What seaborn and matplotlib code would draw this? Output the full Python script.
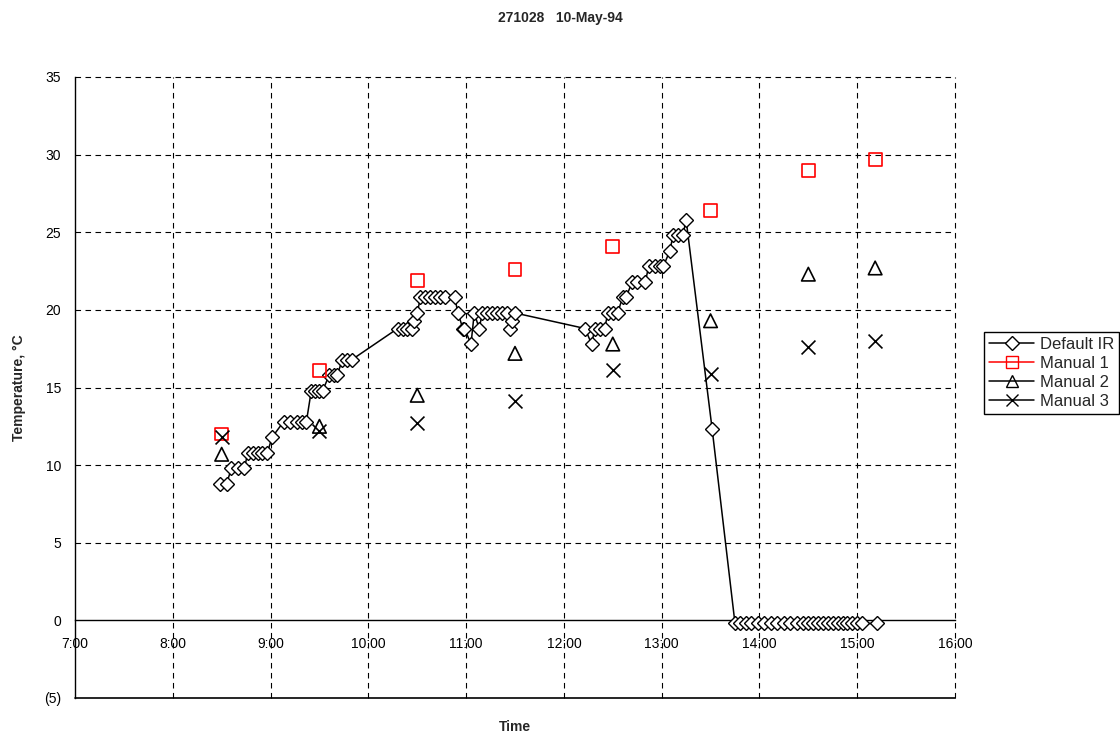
import matplotlib
matplotlib.use("Agg")
import matplotlib.pyplot as plt
from matplotlib.lines import Line2D
from matplotlib.ticker import FuncFormatter
import seaborn as sns
import pandas as pd

# ---------------- data ----------------
ir_times = ["8:29", "8:33", "8:36", "8:40", "8:44", "8:46", "8:49", "8:52", "8:55", "8:58",
            "9:01", "9:08", "9:12", "9:16", "9:19", "9:22", "9:25", "9:27", "9:30", "9:32",
            "9:36", "9:39", "9:41", "9:44", "9:47", "9:50",
            "10:18", "10:21", "10:24", "10:27", "10:28", "10:30", "10:32", "10:35", "10:38",
            "10:41", "10:44", "10:47", "10:53", "10:55", "10:58", "10:59", "11:03", "11:05",
            "11:08", "11:10", "11:13", "11:16", "11:19", "11:22", "11:25", "11:27", "11:28",
            "11:30",
            "12:13", "12:17", "12:19", "12:22", "12:25", "12:27", "12:30", "12:33", "12:36",
            "12:38", "12:42", "12:45", "12:50", "12:52", "12:56", "12:59", "13:01", "13:05",
            "13:07", "13:10", "13:13", "13:15", "13:31",
            "13:45", "13:48", "13:52", "13:55", "13:59", "14:03", "14:07", "14:11", "14:15",
            "14:19", "14:23", "14:27", "14:30", "14:33", "14:36", "14:39", "14:42", "14:45",
            "14:48", "14:51", "14:54", "14:57", "15:00", "15:03", "15:12"]
ir_values = [8.8, 8.8, 9.8, 9.8, 9.8, 10.8, 10.8, 10.8, 10.8, 10.8,
             11.8, 12.8, 12.8, 12.8, 12.8, 12.8, 14.8, 14.8, 14.8, 14.8,
             15.8, 15.8, 15.8, 16.8, 16.8, 16.8,
             18.8, 18.8, 18.8, 18.8, 19.3, 19.8, 20.8, 20.8, 20.8,
             20.8, 20.8, 20.8, 20.8, 19.8, 18.8, 18.8, 17.8, 19.8,
             18.8, 19.8, 19.8, 19.8, 19.8, 19.8, 19.8, 18.8, 19.3,
             19.8,
             18.8, 17.8, 18.8, 18.8, 18.8, 19.8, 19.8, 19.8, 20.8,
             20.8, 21.8, 21.8, 21.8, 22.8, 22.8, 22.8, 22.8, 23.8,
             24.8, 24.8, 24.8, 25.8, 12.3,
             -0.2, -0.2, -0.2, -0.2, -0.2, -0.2, -0.2, -0.2, -0.2,
             -0.2, -0.2, -0.2, -0.2, -0.2, -0.2, -0.2, -0.2, -0.2,
             -0.2, -0.2, -0.2, -0.2, -0.2, -0.2, -0.2]

manual_times = ["8:30", "9:30", "10:30", "11:30", "12:30", "13:30", "14:30", "15:11"]
manual1 = [12.0, 16.1, 21.9, 22.6, 24.1, 26.4, 29.0, 29.7]
manual2 = [10.7, 12.5, 14.5, 17.2, 17.8, 19.3, 22.3, 22.7]
manual3 = [11.8, 12.2, 12.7, 14.1, 16.1, 15.9, 17.6, 18.0]

x_ticks = [7, 8, 9, 10, 11, 12, 13, 14, 15, 16]
x_tick_labels = ["7:00", "8:00", "9:00", "10:00", "11:00", "12:00", "13:00", "14:00", "15:00", "16:00"]
y_ticks = [-5, 0, 5, 10, 15, 20, 25, 30, 35]

title = "271028   10-May-94"
series_labels = ["Default IR", "Manual 1", "Manual 2", "Manual 3"]


def to_hours(t):
    h, m = t.split(":")
    return int(h) + int(m) / 60.0


ir_df = pd.DataFrame({"time": [to_hours(t) for t in ir_times], "temp": ir_values})
man_df = pd.DataFrame({"time": [to_hours(t) for t in manual_times],
                       "m1": manual1, "m2": manual2, "m3": manual3})

# ---------------- figure ----------------
sns.set_theme(style="white")
plt.rcParams["font.family"] = ["Liberation Sans", "DejaVu Sans"]

fig = plt.figure(figsize=(11.2, 7.38), dpi=100)
ax = fig.add_axes([75 / 1120, 1 - 698 / 738, (955 - 75) / 1120, (698 - 77) / 738])

ax.set_xlim(7, 16)
ax.set_ylim(-5, 35)

# grid
for xv in x_ticks[1:]:
    ax.axvline(xv, color="black", lw=0.8, ls=(0, (5, 4)), zorder=0, clip_on=False)
for yv in y_ticks:
    if yv in (-5, 0):
        continue
    ax.axhline(yv, color="black", lw=0.8, ls=(0, (5, 4)), zorder=0, clip_on=False)
ax.axhline(-5, color="black", lw=1.2, zorder=1, clip_on=False)

sns.lineplot(data=ir_df, x="time", y="temp", sort=False, ax=ax, color="black", lw=1.1,
             marker="D", markersize=7.5, markerfacecolor="white", markeredgecolor="black",
             markeredgewidth=1.0, zorder=3, legend=False)
sns.scatterplot(data=man_df, x="time", y="m1", ax=ax, marker="s", s=85,
                facecolor="none", edgecolor="red", linewidth=1.2, zorder=4, legend=False)
sns.scatterplot(data=man_df, x="time", y="m2", ax=ax, marker="^", s=95,
                facecolor="none", edgecolor="black", linewidth=1.2, zorder=4, legend=False)
sns.scatterplot(data=man_df, x="time", y="m3", ax=ax, marker="x", s=100,
                color="black", linewidth=1.2, zorder=4, legend=False)

# axes styling
ax.spines["top"].set_visible(False)
ax.spines["right"].set_visible(False)
ax.spines["left"].set_color("black")
ax.spines["left"].set_linewidth(1.0)
ax.spines["bottom"].set_position(("data", 0))
ax.spines["bottom"].set_color("black")
ax.spines["bottom"].set_linewidth(1.0)

ax.set_xticks(x_ticks)
ax.set_xticklabels(x_tick_labels)
ax.set_yticks(y_ticks)
ax.yaxis.set_major_formatter(FuncFormatter(lambda v, p: f"({abs(int(v))})" if v < 0 else f"{int(v)}"))
ax.tick_params(axis="x", direction="inout", length=6, width=1, colors="black", labelsize=10, pad=9)
ax.tick_params(axis="y", direction="out", length=4, width=1, colors="black", labelsize=10, pad=6)
ax.set_xlabel("")
ax.set_ylabel("Temperature, °C", fontsize=10, fontweight="bold", labelpad=13)

fig.text(515 / 1120, 1 - 727 / 738, "Time", ha="center", va="center", fontsize=10, fontweight="bold")
fig.text(560 / 1120, 1 - 18 / 738, title, ha="center", va="center", fontsize=10, fontweight="bold")

handles = [
    Line2D([], [], color="black", lw=1.1, marker="D", markersize=7, markerfacecolor="white",
           markeredgecolor="black"),
    Line2D([], [], color="red", lw=1.1, marker="s", markersize=9, markerfacecolor="none",
           markeredgecolor="red"),
    Line2D([], [], color="black", lw=1.1, marker="^", markersize=9, markerfacecolor="none",
           markeredgecolor="black"),
    Line2D([], [], color="black", lw=1.1, marker="x", markersize=9, markeredgecolor="black"),
]
leg = fig.legend(handles, series_labels,
                 loc="upper left", bbox_to_anchor=(984 / 1120, 1 - 332 / 738),
                 frameon=True, fancybox=False, framealpha=1, edgecolor="black",
                 fontsize=12, handlelength=2.7, handletextpad=0.35, labelspacing=0.24,
                 borderpad=0.3, borderaxespad=0)
leg.get_frame().set_linewidth(1.0)

fig.savefig("out.png", dpi=100)
